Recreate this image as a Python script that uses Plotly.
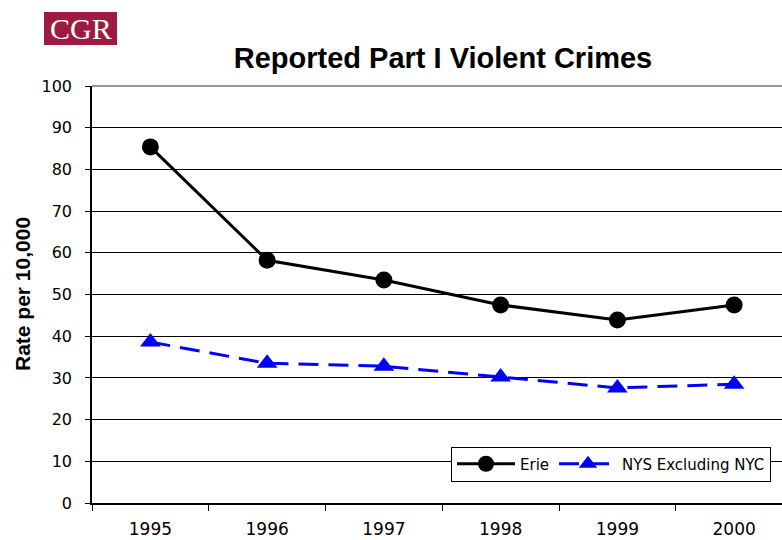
import plotly.graph_objects as go

years = ["1995", "1996", "1997", "1998", "1999", "2000"]
erie = [85.4, 58.2, 53.5, 47.5, 43.9, 47.5]
nys_excl_nyc = [38.6, 33.5, 32.8, 30.2, 27.6, 28.5]

W, H = 782, 540
L, R, T, B = 92, 0, 86, 37
pw, ph = W - L - R, H - T - B

def px_x(px):
    return (px - L) / pw

def px_y(py):
    return (H - B - py) / ph

fig = go.Figure()
fig.add_trace(go.Scatter(
    x=years, y=erie, name="Erie", mode="lines+markers",
    line=dict(color="black", width=3),
    marker=dict(symbol="circle", size=17, color="black"),
))
fig.add_trace(go.Scatter(
    x=years, y=nys_excl_nyc, name="NYS Excluding NYC", mode="lines+markers",
    line=dict(color="#0000FF", width=3, dash="20px,10px"),
    marker=dict(symbol="triangle-up", size=18, color="#0000FF"),
))

xtick_font = dict(family="DejaVu Sans, Verdana, sans-serif", size=17, color="black")
ytick_font = dict(family="DejaVu Sans, Verdana, sans-serif", size=16, color="black")

fig.update_layout(
    width=W, height=H,
    margin=dict(l=L, r=R, t=T, b=B, pad=0),
    plot_bgcolor="white", paper_bgcolor="white",
    title=dict(
        text="<b>Reported Part I Violent Crimes</b>",
        font=dict(family="Liberation Sans, Arial, sans-serif", size=29, color="black"),
        x=443 / W, xanchor="center", xref="container",
        y=1 - 58 / H, yanchor="middle", yref="container",
    ),
    xaxis=dict(
        type="category", range=[-0.5, 5.41], tickson="boundaries",
        ticks="outside", ticklen=6, tickcolor="black", tickwidth=1,
        showline=True, linecolor="black", linewidth=1.5,
        showgrid=False, tickfont=xtick_font, ticklabelstandoff=10,
        automargin=False,
    ),
    yaxis=dict(
        range=[0, 100], dtick=10, tick0=0,
        ticks="outside", ticklen=5, tickcolor="black", tickwidth=1,
        showline=True, linecolor="black", linewidth=1.5,
        showgrid=True, gridcolor="black", gridwidth=1, zeroline=False,
        tickfont=ytick_font, ticklabelstandoff=10, automargin=False,
    ),
    legend=dict(
        orientation="h", x=px_x(771), xanchor="right",
        y=px_y(464), yanchor="middle",
        bgcolor="white", bordercolor="black", borderwidth=1,
        font=dict(family="DejaVu Sans, Verdana, sans-serif", size=15, color="black"),
        traceorder="normal", itemwidth=58,
    ),
    showlegend=True,
)

# top border of plot area (gray)
fig.add_shape(type="line", xref="paper", yref="y domain", x0=0, x1=1, y0=1, y1=1,
              line=dict(color="#999999", width=2))

# y-axis title
fig.add_annotation(
    text="<b>Rate per 10,000</b>", textangle=-90,
    xref="paper", yref="paper", x=px_x(22), y=px_y(294),
    xanchor="center", yanchor="middle", showarrow=False,
    font=dict(family="Liberation Sans, Arial, sans-serif", size=21, color="black"),
)

# CGR logo
fig.add_shape(type="rect", xref="paper", yref="paper",
              x0=px_x(44), x1=px_x(117), y0=px_y(45), y1=px_y(12),
              fillcolor="#9C1B40", line=dict(width=0))
fig.add_annotation(
    text="CGR", xref="paper", yref="paper", x=px_x(80.5), y=px_y(29),
    xanchor="center", yanchor="middle", showarrow=False,
    font=dict(family="Liberation Serif, Times New Roman, serif", size=30, color="white"),
)

fig.write_html(
    "out.html",
    config={"displayModeBar": False},
    post_script="document.body.style.margin='0';document.body.style.overflow='hidden';",
)
